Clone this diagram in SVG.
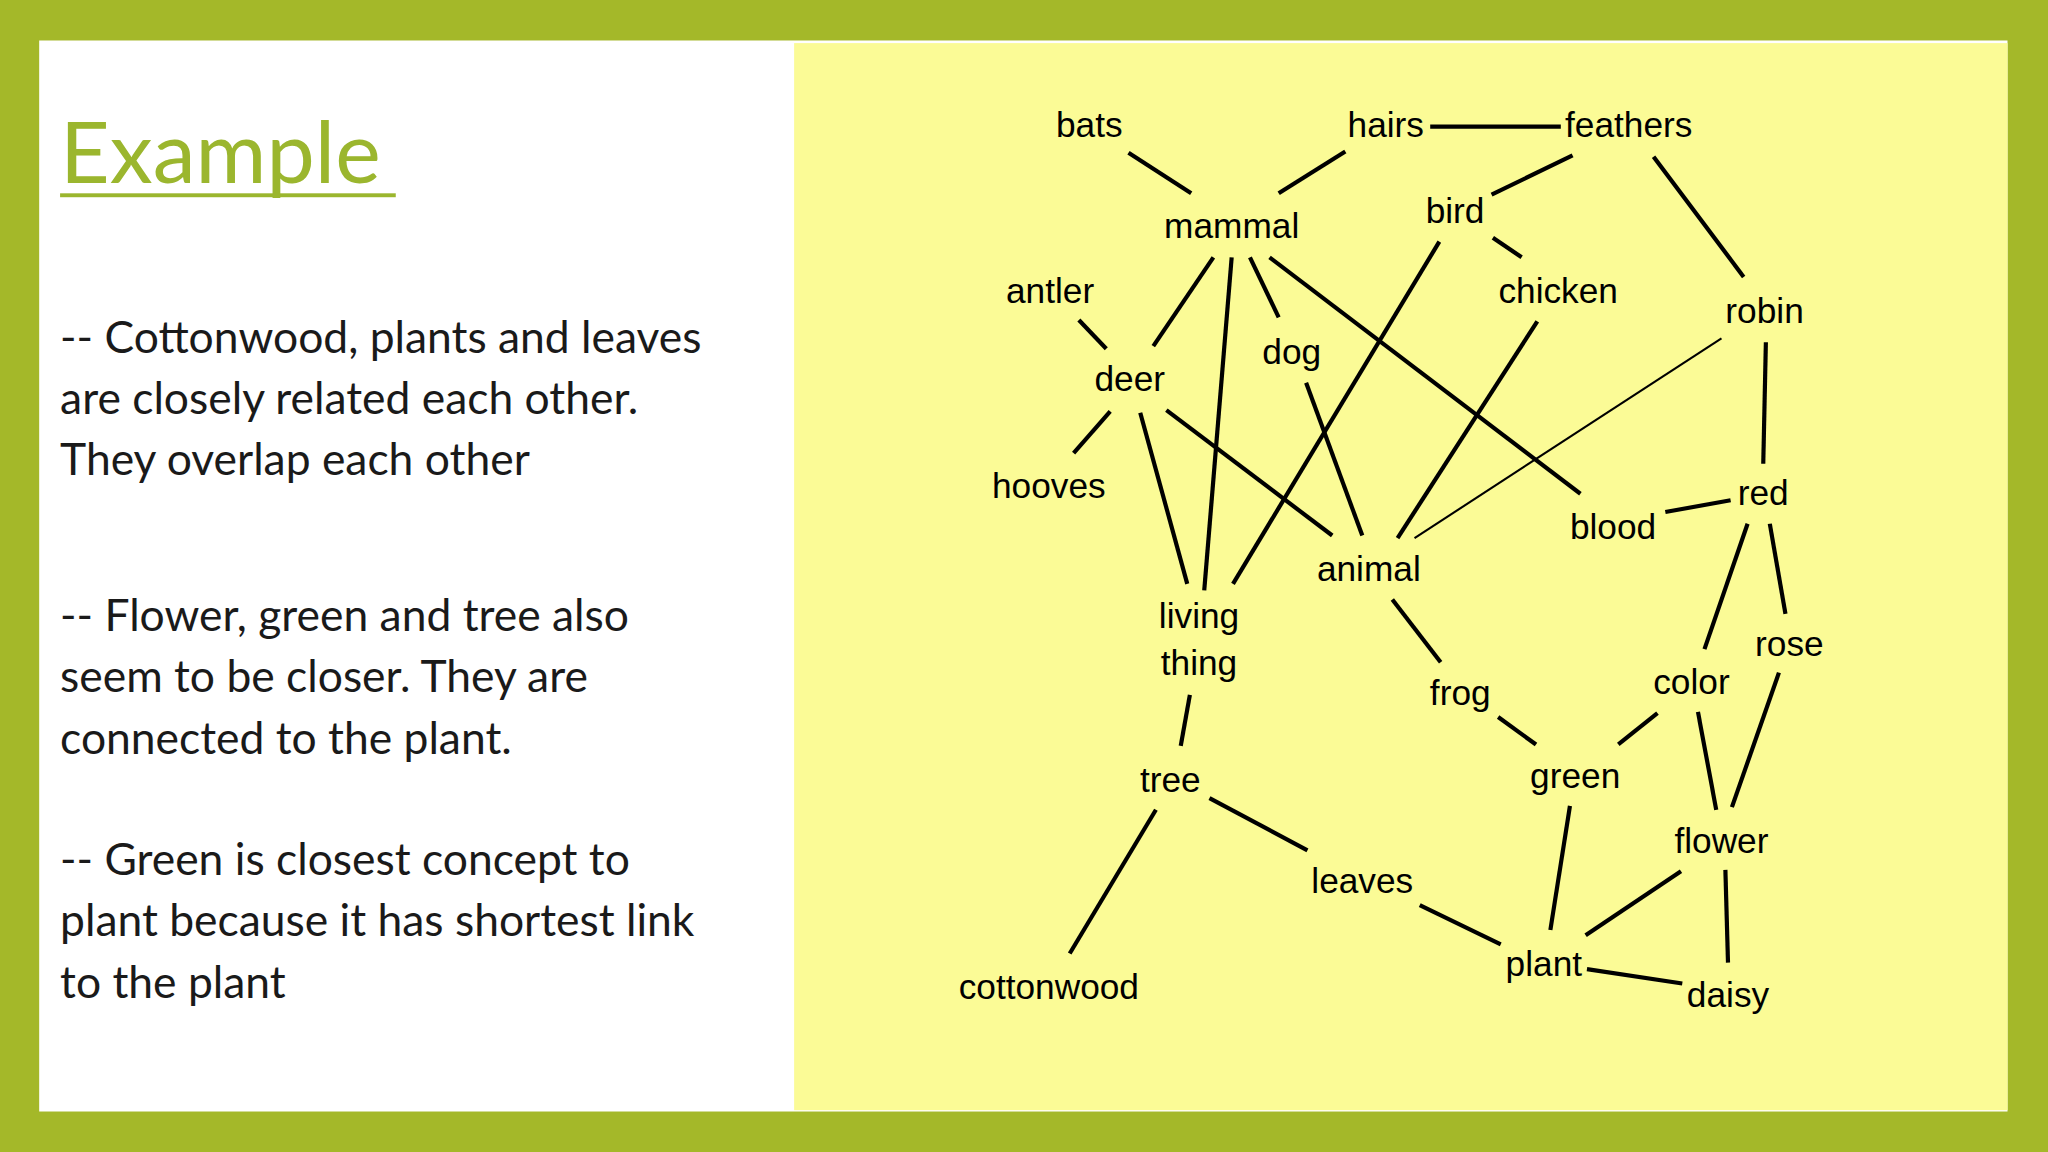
<svg xmlns="http://www.w3.org/2000/svg" width="2048" height="1152" viewBox="0 0 2048 1152">
<style>
.n{font-family:"Liberation Sans",Arial,sans-serif;font-size:27px;fill:#000;text-anchor:middle}
.b{font-family:Lato,"Open Sans",sans-serif;font-size:34px;fill:#1a1a1a}
line{stroke:#000;stroke-width:3.2}
</style>
<rect width="2048" height="1152" fill="#a4b829"/>
<g transform="scale(1.30612)">
<rect x="30" y="31" width="1507" height="820" fill="#fff"/>
<rect x="608" y="33" width="929" height="817" fill="#fbfb96"/>
<g id="text">
<text x="46" y="140" font-family="Lato,'Open Sans',sans-serif" font-size="66" fill="#9bb62e">Example</text>
<rect x="46" y="148" width="257" height="3" fill="#9bb62e"/>
<text class="b" x="46" y="270">-- Cottonwood, plants and leaves</text>
<text class="b" x="46" y="317">are closely related each other.</text>
<text class="b" x="46" y="364">They overlap each other</text>
<text class="b" x="46" y="483">-- Flower, green and tree also</text>
<text class="b" x="46" y="530">seem to be closer. They are</text>
<text class="b" x="46" y="577">connected to the plant.</text>
<text class="b" x="46" y="670">-- Green is closest concept to</text>
<text class="b" x="46" y="717">plant because it has shortest link</text>
<text class="b" x="46" y="764">to the plant</text>
</g>
<g id="connectors">
<line x1="1095" y1="97" x2="1195" y2="97"/>
<line x1="864" y1="117" x2="912" y2="148"/>
<line x1="1030" y1="116" x2="979" y2="148"/>
<line x1="1204" y1="119" x2="1142" y2="149"/>
<line x1="1266" y1="120" x2="1335" y2="212"/>
<line x1="1143" y1="182" x2="1165" y2="197"/>
<line x1="929" y1="197" x2="883" y2="265"/>
<line x1="943" y1="197" x2="922" y2="452"/>
<line x1="957" y1="197" x2="979" y2="243"/>
<line x1="972" y1="197" x2="1210" y2="378"/>
<line x1="826" y1="245" x2="847" y2="267"/>
<line x1="850" y1="315" x2="822" y2="347"/>
<line x1="873" y1="316" x2="909" y2="447"/>
<line x1="893" y1="314" x2="1020" y2="410"/>
<line x1="1102" y1="185" x2="944" y2="447"/>
<line x1="1177" y1="246" x2="1070" y2="412"/>
<line x1="1318" y1="259" x2="1083" y2="412" style="stroke-width:1.6"/>
<line x1="1000" y1="293" x2="1043" y2="410"/>
<line x1="1352" y1="262" x2="1350" y2="355"/>
<line x1="1275" y1="392" x2="1325" y2="383"/>
<line x1="1338" y1="401" x2="1305" y2="497"/>
<line x1="1355" y1="401" x2="1367" y2="470"/>
<line x1="1066" y1="459" x2="1103" y2="507"/>
<line x1="1147" y1="549" x2="1176" y2="570"/>
<line x1="1269" y1="546" x2="1239" y2="570"/>
<line x1="1300" y1="545" x2="1314" y2="620"/>
<line x1="1362" y1="515" x2="1326" y2="618"/>
<line x1="911" y1="532" x2="904" y2="571"/>
<line x1="885" y1="620" x2="819" y2="730"/>
<line x1="926" y1="611" x2="1001" y2="651"/>
<line x1="1087" y1="693" x2="1149" y2="723"/>
<line x1="1202" y1="617" x2="1187" y2="712"/>
<line x1="1287" y1="667" x2="1214" y2="716"/>
<line x1="1321" y1="666" x2="1323" y2="737"/>
<line x1="1215" y1="742" x2="1288" y2="753"/>
</g>
<g id="bats"><text class="n" x="834" y="105">bats</text></g>
<g id="hairs"><text class="n" x="1061" y="105">hairs</text></g>
<g id="feathers"><text class="n" x="1247" y="105">feathers</text></g>
<g id="mammal"><text class="n" x="943" y="182">mammal</text></g>
<g id="bird"><text class="n" x="1114" y="171">bird</text></g>
<g id="antler"><text class="n" x="804" y="232">antler</text></g>
<g id="chicken"><text class="n" x="1193" y="232">chicken</text></g>
<g id="robin"><text class="n" x="1351" y="247">robin</text></g>
<g id="dog"><text class="n" x="989" y="279">dog</text></g>
<g id="deer"><text class="n" x="865" y="299">deer</text></g>
<g id="hooves"><text class="n" x="803" y="381">hooves</text></g>
<g id="red"><text class="n" x="1350" y="387">red</text></g>
<g id="blood"><text class="n" x="1235" y="413">blood</text></g>
<g id="animal"><text class="n" x="1048" y="445">animal</text></g>
<g id="living-thing"><text class="n" x="918" y="481">living</text><text class="n" x="918" y="517">thing</text></g>
<g id="rose"><text class="n" x="1370" y="502">rose</text></g>
<g id="color"><text class="n" x="1295" y="531">color</text></g>
<g id="frog"><text class="n" x="1118" y="540">frog</text></g>
<g id="green"><text class="n" x="1206" y="603">green</text></g>
<g id="tree"><text class="n" x="896" y="606">tree</text></g>
<g id="flower"><text class="n" x="1318" y="653">flower</text></g>
<g id="leaves"><text class="n" x="1043" y="684">leaves</text></g>
<g id="plant"><text class="n" x="1182" y="747">plant</text></g>
<g id="cottonwood"><text class="n" x="803" y="765">cottonwood</text></g>
<g id="daisy"><text class="n" x="1323" y="771">daisy</text></g>
</g>
</svg>
